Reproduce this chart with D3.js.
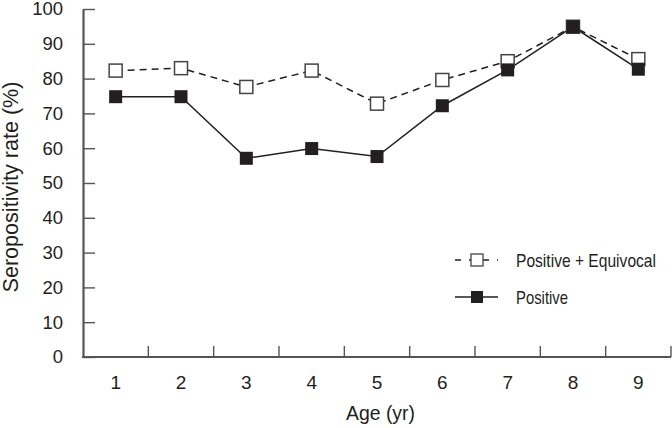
<!DOCTYPE html>
<html>
<head>
<meta charset="utf-8">
<script src="https://cdn.jsdelivr.net/npm/d3@7"></script>
<style>
  body { margin: 0; background: #fff; }
  svg { display: block; }
  .axis path, .axis line { stroke: #555; }
  .axis text { font-family: Arial, "Liberation Sans", sans-serif; fill: #231f20; }
</style>
</head>
<body>
<div class="chartContainer"></div>
<script>
const WIDTH = 672;
const HEIGHT = 428;
const LEFT = 83, RIGHT = 671, TOP = 9, BOTTOM = 357;

// data
var ages = ["1", "2", "3", "4", "5", "6", "7", "8", "9"];
var positiveEquivocal = [82.3, 83.0, 77.6, 82.3, 72.8, 79.6, 85.0, 94.9, 85.6];
var positive = [74.8, 74.8, 57.1, 59.9, 57.6, 72.2, 82.5, 94.9, 82.7];
var yTicks = [0, 10, 20, 30, 40, 50, 60, 70, 80, 90, 100];

var INK = "#231f20";
var MARK = 13;
var FONT = "Arial, 'Liberation Sans', sans-serif";

var svg = d3.select(".chartContainer")
  .append("svg")
  .attr("width", WIDTH)
  .attr("height", HEIGHT);

var xScale = d3.scaleBand()
  .domain(ages)
  .range([LEFT, RIGHT])
  .padding(0);

var yScale = d3.scaleLinear()
  .domain([0, 100])
  .range([BOTTOM, TOP]);

// y axis, ticks pointing into the plot
var yAxis = d3.axisLeft(yScale)
  .tickValues(yTicks)
  .tickSizeInner(-12)
  .tickSizeOuter(0)
  .tickPadding(20);

var gy = svg.append("g")
  .attr("class", "axis")
  .attr("transform", "translate(" + LEFT + ",0)")
  .call(yAxis);
gy.select(".domain").attr("stroke-width", 2.2);
gy.selectAll(".tick line").attr("stroke-width", 1.4);
gy.selectAll("text").style("font-size", "18.5px");

// x axis: labels at band centres, ticks at band edges pointing up
var xAxis = d3.axisBottom(xScale)
  .tickSize(0)
  .tickPadding(19);

var gx = svg.append("g")
  .attr("class", "axis")
  .attr("transform", "translate(0," + BOTTOM + ")")
  .call(xAxis);
gx.select(".domain").attr("stroke-width", 2.2).attr("d", "M" + (LEFT - 1) + ",0H" + RIGHT);
gx.selectAll("text").style("font-size", "19px");

gx.selectAll(".edge")
  .data(ages)
  .enter()
  .append("line")
  .attr("class", "edge")
  .attr("x1", function(d) { return xScale(d) + xScale.bandwidth(); })
  .attr("x2", function(d) { return xScale(d) + xScale.bandwidth(); })
  .attr("y1", 0)
  .attr("y2", -11)
  .attr("stroke", INK)
  .attr("stroke-width", 1.4);

// axis titles
svg.append("text")
  .attr("transform", "translate(18,187) rotate(-90)")
  .attr("text-anchor", "middle")
  .attr("textLength", 211)
  .attr("lengthAdjust", "spacingAndGlyphs")
  .style("font-family", FONT)
  .style("font-size", "22px")
  .attr("fill", INK)
  .text("Seropositivity rate (%)");

svg.append("text")
  .attr("x", 380.5)
  .attr("y", 420)
  .attr("text-anchor", "middle")
  .attr("textLength", 69)
  .attr("lengthAdjust", "spacingAndGlyphs")
  .style("font-family", FONT)
  .style("font-size", "19.5px")
  .attr("fill", INK)
  .text("Age (yr)");

// lines
var line = d3.line()
  .x(function(d, i) { return xScale(ages[i]) + xScale.bandwidth() / 2; })
  .y(function(d) { return yScale(d); });

svg.append("path")
  .attr("d", line(positiveEquivocal))
  .attr("fill", "none")
  .attr("stroke", INK)
  .attr("stroke-width", 1.5)
  .attr("stroke-dasharray", "7,5");

svg.append("path")
  .attr("d", line(positive))
  .attr("fill", "none")
  .attr("stroke", INK)
  .attr("stroke-width", 1.5);

// markers
svg.selectAll(".open")
  .data(positiveEquivocal)
  .enter()
  .append("rect")
  .attr("class", "open")
  .attr("x", function(d, i) { return xScale(ages[i]) + xScale.bandwidth() / 2 - MARK / 2; })
  .attr("y", function(d) { return yScale(d) - MARK / 2; })
  .attr("width", MARK)
  .attr("height", MARK)
  .attr("fill", "#fff")
  .attr("stroke", "#444")
  .attr("stroke-width", 1.5);

svg.selectAll(".filled")
  .data(positive)
  .enter()
  .append("rect")
  .attr("class", "filled")
  .attr("x", function(d, i) { return xScale(ages[i]) + xScale.bandwidth() / 2 - MARK / 2; })
  .attr("y", function(d) { return yScale(d) - MARK / 2; })
  .attr("width", MARK)
  .attr("height", MARK)
  .attr("fill", INK);

// legend
var legendItems = [
  { label: "Positive + Equivocal", width: 140, dash: "6,8", fill: "#fff", y: 260 },
  { label: "Positive", width: 52, dash: null, fill: INK, y: 297 }
];

var lg = svg.selectAll(".legend")
  .data(legendItems)
  .enter()
  .append("g")
  .attr("class", "legend")
  .attr("transform", function(d) { return "translate(455," + d.y + ")"; });

lg.append("line")
  .attr("x1", 0)
  .attr("x2", 43)
  .attr("y1", 0)
  .attr("y2", 0)
  .attr("stroke", INK)
  .attr("stroke-width", 1.5)
  .attr("stroke-dasharray", function(d) { return d.dash; });

lg.append("rect")
  .attr("x", 22 - 6)
  .attr("y", -6)
  .attr("width", 12)
  .attr("height", 12)
  .attr("fill", function(d) { return d.fill; })
  .attr("stroke", function(d) { return d.dash ? "#444" : "none"; })
  .attr("stroke-width", 1.3);

lg.append("text")
  .attr("x", 61)
  .attr("y", 0)
  .attr("dy", "0.36em")
  .attr("textLength", function(d) { return d.width; })
  .attr("lengthAdjust", "spacingAndGlyphs")
  .style("font-family", FONT)
  .style("font-size", "19px")
  .attr("fill", INK)
  .text(function(d) { return d.label; });
</script>
</body>
</html>
